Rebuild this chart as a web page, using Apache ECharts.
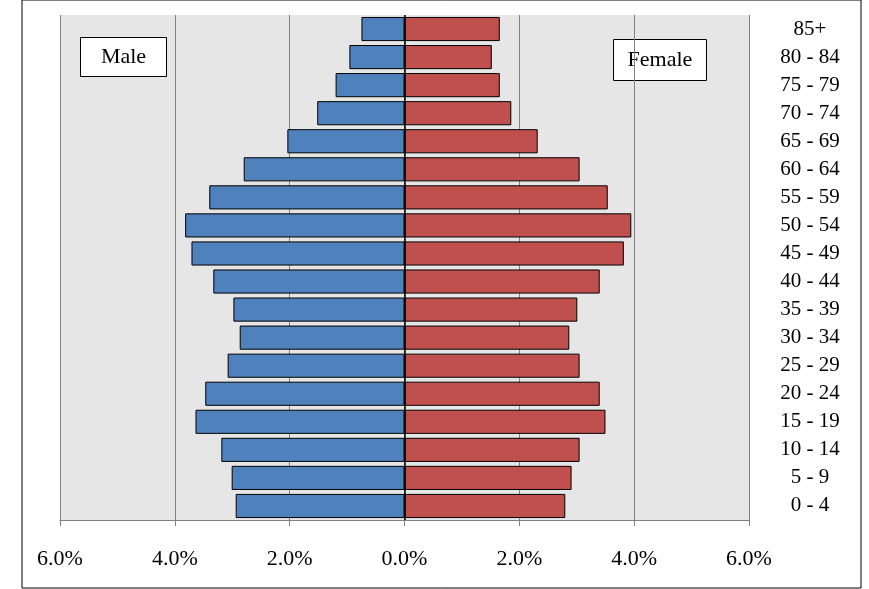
<!DOCTYPE html>
<html><head><meta charset="utf-8">
<script src="https://cdn.jsdelivr.net/npm/echarts@6/dist/echarts.min.js"></script>
<style>html,body{margin:0;padding:0;background:#fff}#c{width:869px;height:589px}</style>
</head><body><div id="c"></div>
<script>
// age groups, bottom to top
const ageGroups = ['0 - 4','5 - 9','10 - 14','15 - 19','20 - 24','25 - 29','30 - 34','35 - 39','40 - 44',
  '45 - 49','50 - 54','55 - 59','60 - 64','65 - 69','70 - 74','75 - 79','80 - 84','85+'];
// percent of population
const male = [2.94,3.01,3.19,3.64,3.47,3.08,2.87,2.98,3.33,3.71,3.82,3.40,2.80,2.04,1.52,1.20,0.96,0.75];
const female = [2.80,2.91,3.05,3.50,3.40,3.05,2.87,3.01,3.40,3.82,3.95,3.54,3.05,2.32,1.86,1.66,1.52,1.66];

const FONT = '"Liberation Serif", "DejaVu Serif", serif';
const chart = echarts.init(document.getElementById('c'));

chart.setOption({
  animation: false,
  grid: { left: 60, right: 120, top: 15, bottom: 69, show: true, backgroundColor: '#E6E6E6', borderWidth: 0 },
  xAxis: {
    type: 'value', min: -6, max: 6, interval: 2,
    axisLine: { show: true, lineStyle: { color: '#808080' } },
    axisTick: { show: true, inside: false, length: 6, lineStyle: { color: '#808080' } },
    splitLine: { show: true, lineStyle: { color: '#808080', width: 1 } },
    axisLabel: { margin: 28, color: '#000', fontFamily: FONT, fontSize: 22,
      formatter: v => Math.abs(v).toFixed(1) + '%' }
  },
  yAxis: {
    type: 'category', data: ageGroups, position: 'right',
    axisLine: { show: false }, axisTick: { show: false },
    axisLabel: { color: '#000', fontFamily: FONT, fontSize: 21, margin: 61, align: 'center' }
  },
  series: [
    { name: 'Male', type: 'bar', stack: 'p', barCategoryGap: '14%',
      data: male.map(v => -v),
      itemStyle: { color: '#4F81BD', borderColor: '#000', borderWidth: 1 } },
    { name: 'Female', type: 'bar', stack: 'p',
      data: female,
      itemStyle: { color: '#C0504D', borderColor: '#000', borderWidth: 1 } }
  ],
  graphic: [
    { type: 'line', shape: { x1: 405, y1: 15, x2: 405, y2: 520 }, style: { stroke: '#000', lineWidth: 1.5 }, z: 10 },
    { type: 'rect', shape: { x: 22, y: 0, width: 839, height: 588 }, style: { fill: 'none', stroke: '#000', lineWidth: 1 } },
    { type: 'group', left: 80, top: 37, children: [
      { type: 'rect', shape: { x: 0, y: 0, width: 86, height: 39 }, style: { fill: '#fff', stroke: '#000', lineWidth: 1 } },
      { type: 'text', x: 43, y: 19.5, style: { text: 'Male', fontFamily: FONT, fontSize: 22, fill: '#000', align: 'center', verticalAlign: 'middle' } }
    ], z: 20 },
    { type: 'group', left: 613, top: 39, children: [
      { type: 'rect', shape: { x: 0, y: 0, width: 93, height: 41 }, style: { fill: '#fff', stroke: '#000', lineWidth: 1 } },
      { type: 'text', x: 46.5, y: 20.5, style: { text: 'Female', fontFamily: FONT, fontSize: 22, fill: '#000', align: 'center', verticalAlign: 'middle' } }
    ], z: 20 }
  ]
});
</script></body></html>
